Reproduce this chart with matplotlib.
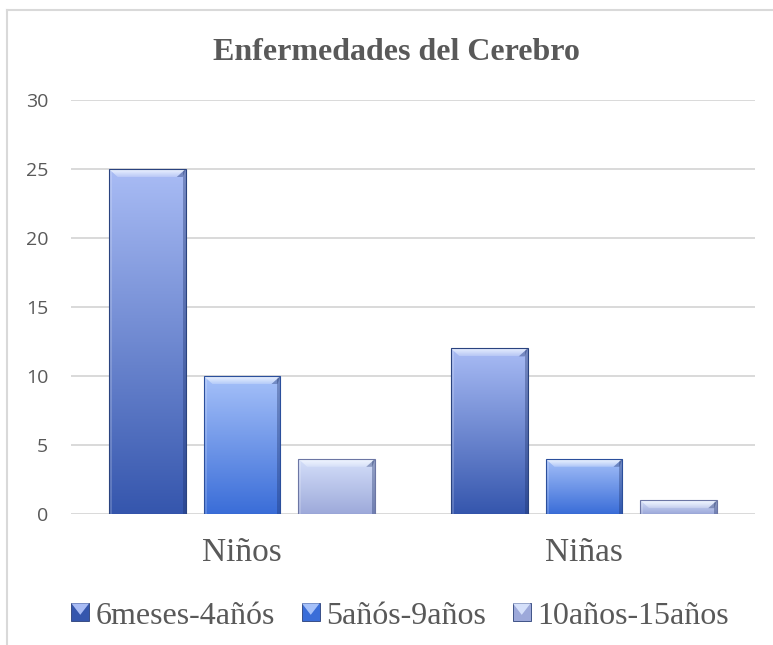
import numpy as np
import matplotlib
matplotlib.use("Agg")
import matplotlib.pyplot as plt
from matplotlib.colors import LinearSegmentedColormap
from matplotlib.patches import Polygon, Rectangle
from matplotlib.lines import Line2D
from matplotlib.legend_handler import HandlerBase

# ---- data ----
categories = ["Niños", "Niñas"]
series_names = ["6meses-4añós", "5añós-9años", "10años-15años"]
values_6m_4a = [25, 12]
values_5a_9a = [10, 4]
values_10a_15a = [4, 1]
yticks = [0, 5, 10, 15, 20, 25, 30]
title = "Enfermedades del Cerebro"

series_values = [values_6m_4a, values_5a_9a, values_10a_15a]
top_colors = ["#a9bcf5", "#a6c1f9", "#d5e0fa"]
bottom_colors = ["#3556ad", "#3a6dd8", "#9da9da"]
edge_colors = ["#2a437f", "#2b4f9c", "#6c76a4"]

TXT = "#595959"
GRID = "#d9d9d9"

W, H, DPI = 773, 645, 100
fig = plt.figure(figsize=(W / DPI, H / DPI), dpi=DPI)
fig.patch.set_facecolor("white")

ax_l, ax_b, ax_w, ax_h = 71 / W, (H - 514) / H, 684 / W, 414 / H
ax = fig.add_axes([ax_l, ax_b, ax_w, ax_h])
ax.set_xlim(-0.5, 1.5)
ax.set_ylim(0, 30)
ax.set_facecolor("none")
for s in ax.spines.values():
    s.set_visible(False)

ax.set_yticks(yticks)
ax.yaxis.grid(True, color=GRID, lw=1.4, zorder=0)
ax.set_axisbelow(True)
ax.tick_params(axis="y", length=0, pad=16.5, labelsize=14, labelcolor=TXT)
for t in ax.get_yticklabels():
    t.set_fontfamily(["Open Sans", "DejaVu Sans"])

x = np.arange(len(categories))
ax.set_xticks(x)
ax.set_xticklabels(categories, fontfamily=["Liberation Serif", "DejaVu Serif"], fontsize=24, color=TXT)
ax.tick_params(axis="x", length=0, pad=17)

# bevel sizes in data units (pixels -> data)
px_x = (ax_w * W) / 2.0
px_y = (ax_h * H) / 30.0
bx = 9 / px_x
by = 8 / px_y
bs = 3 / px_x

bevel_rgba = np.zeros((64, 1, 4))
bevel_rgba[..., :3] = [0.95, 0.97, 1.0]
bevel_rgba[:, 0, 3] = np.linspace(0.25, 0.95, 64)

bar_w = 0.225
step = 0.277
for i, (vals, tc, bc, ec) in enumerate(zip(series_values, top_colors, bottom_colors, edge_colors)):
    cmap = LinearSegmentedColormap.from_list(f"g{i}", [bc, tc])
    bars = ax.bar(x + (i - 1) * step, vals, width=bar_w, facecolor="none",
                  edgecolor=ec, linewidth=0.8, zorder=4, label=series_names[i])
    for p in bars.patches:
        x0, w_, h_ = p.get_x(), p.get_width(), p.get_height()
        grad = np.linspace(0, 1, 256).reshape(-1, 1)
        im = ax.imshow(grad, cmap=cmap, origin="lower", aspect="auto",
                       extent=[x0, x0 + w_, 0, h_], zorder=2, interpolation="bilinear")
        im.set_clip_path(p)
        # side strips
        ax.add_patch(Polygon([(x0, 0), (x0 + bs, 0), (x0 + bs, h_), (x0, h_)],
                             closed=True, facecolor="white", alpha=0.18, lw=0, zorder=3))
        ax.add_patch(Polygon([(x0 + w_ - bs, 0), (x0 + w_, 0), (x0 + w_, h_), (x0 + w_ - bs, h_)],
                             closed=True, facecolor="#1c2f66", alpha=0.35, lw=0, zorder=3))
        # top bevel (gradient)
        top_poly = Polygon([(x0, h_), (x0 + w_, h_), (x0 + w_ - bx, h_ - by), (x0 + bx, h_ - by)],
                           closed=True, facecolor="none", lw=0, zorder=3)
        ax.add_patch(top_poly)
        bim = ax.imshow(bevel_rgba, origin="lower", aspect="auto",
                        extent=[x0, x0 + w_, h_ - by, h_], zorder=3, interpolation="bilinear")
        bim.set_clip_path(top_poly)
        ax.add_patch(Polygon([(x0 + w_, h_), (x0 + w_ - bx, h_ - by), (x0 + w_ - bs, h_ - by)],
                             closed=True, facecolor="#1c2f66", alpha=0.35, lw=0, zorder=3))

ax.set_ylim(0, 30)
ax.set_xlim(-0.5, 1.5)


class BevelHandler(HandlerBase):
    def __init__(self, face, light):
        super().__init__()
        self.face = face
        self.light = light

    def create_artists(self, legend, orig_handle, xdescent, ydescent, width, height, fontsize, trans):
        s = min(width, height)
        x0 = -xdescent + (width - s) / 2
        y0 = -ydescent + (height - s) / 2
        sq = Rectangle((x0, y0), s, s, facecolor=self.face, edgecolor="#2a3f78", lw=0.6, transform=trans)
        tri = Polygon([(x0, y0 + s), (x0 + s, y0 + s), (x0 + s / 2, y0 + s * 0.35)], closed=True,
                      facecolor=self.light, lw=0, transform=trans)
        return [sq, tri]


handles = [Rectangle((0, 0), 1, 1) for _ in series_names]
handler_map = {h: BevelHandler(bc, tc) for h, bc, tc in zip(handles, bottom_colors, top_colors)}
leg = fig.legend(handles, series_names, loc="center", bbox_to_anchor=(400 / W, 1 - 616 / H),
                 ncol=3, frameon=False, handler_map=handler_map,
                 prop={"family": ["Liberation Serif", "DejaVu Serif"], "size": 23},
                 handlelength=0.55, handleheight=0.55, handletextpad=0.2, columnspacing=0.85,
                 borderaxespad=0, borderpad=0)
for t in leg.get_texts():
    t.set_color(TXT)

fig.text(396 / W, 1 - 52 / H, title, ha="center", va="center", fontsize=23, fontweight="bold",
         color=TXT, family=["Liberation Serif", "DejaVu Serif"])

# chart frame (left & top visible)
fig.add_artist(Line2D([7 / W, 7 / W], [0, 1 - 10 / H], color=GRID, lw=1.5))
fig.add_artist(Line2D([7 / W, 772 / W], [1 - 10 / H, 1 - 10 / H], color=GRID, lw=1.5))

fig.savefig("out.png", dpi=DPI)
